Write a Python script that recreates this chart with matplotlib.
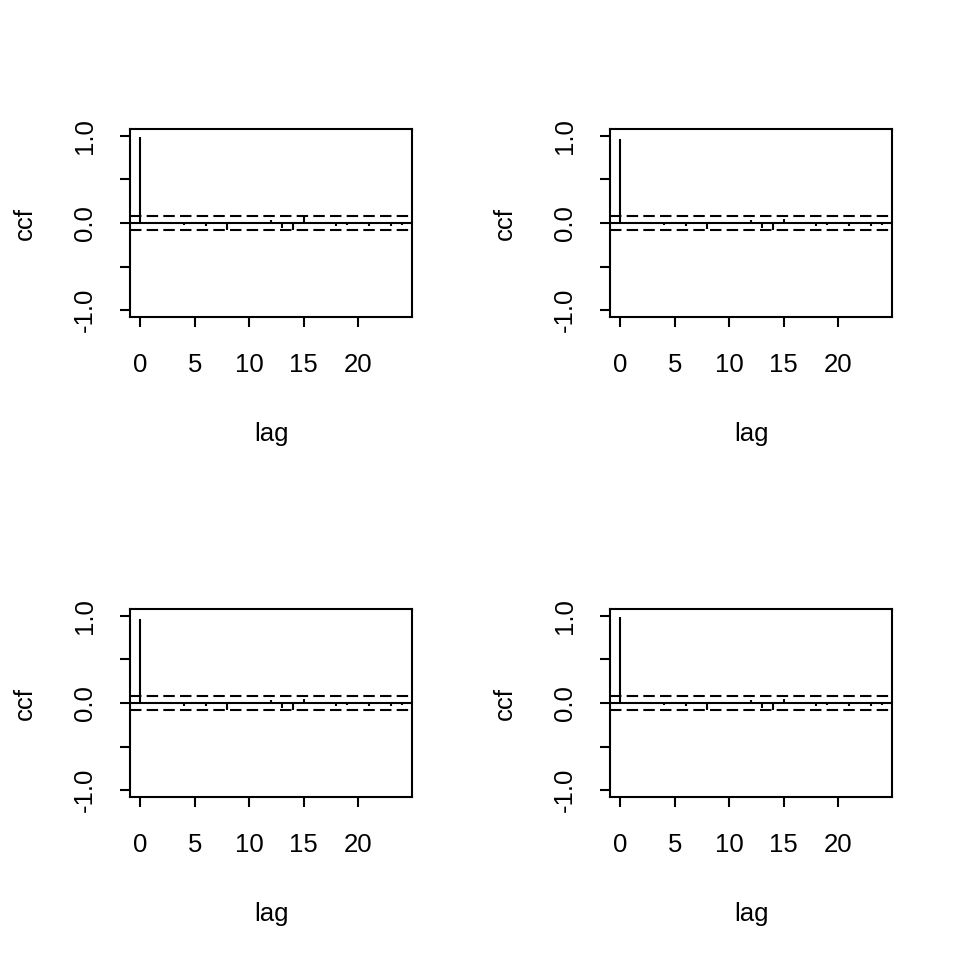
import matplotlib

matplotlib.use("Agg")
import matplotlib.pyplot as plt
import numpy as np


plt.rcParams["font.family"] = ["Liberation Sans", "DejaVu Sans"]
plt.rcParams["font.size"] = 18.5

LAGS = np.arange(0, 25)

# cross-correlation values (lags 0..24)
CCF_1 = [0.99, 0.00, -0.005, 0.01, -0.02, 0.00, -0.03, 0.005, -0.075, 0.00,
         0.005, -0.01, 0.04, -0.06, -0.075, 0.07, 0.005, 0.00, -0.04, -0.02,
         0.005, -0.04, 0.01, -0.03, -0.02]
CCF_2 = [0.965, 0.00, -0.01, 0.005, -0.02, 0.00, -0.03, 0.005, -0.07, 0.00,
         0.005, -0.01, 0.04, -0.06, -0.075, 0.05, 0.005, 0.00, -0.04, -0.02,
         0.005, -0.04, 0.01, -0.03, -0.02]
CCF_3 = [0.965, 0.00, -0.01, 0.01, -0.03, 0.00, -0.03, 0.005, -0.075, 0.01,
         0.005, -0.01, 0.04, -0.06, -0.075, 0.05, 0.005, 0.00, -0.04, -0.02,
         0.005, -0.04, 0.01, -0.03, -0.02]
CCF_4 = [0.99, 0.00, -0.005, 0.005, -0.02, 0.00, -0.03, 0.005, -0.075, 0.00,
         0.005, -0.01, 0.04, -0.06, -0.075, 0.05, 0.005, 0.00, -0.04, -0.02,
         0.005, -0.04, 0.01, -0.03, -0.02]
PANELS = [CCF_1, CCF_2, CCF_3, CCF_4]

CONF_LIMIT = 0.08
X_TICKS = [0, 5, 10, 15, 20]
Y_TICKS = [-1.0, -0.5, 0.0, 0.5, 1.0]
Y_TICK_LABELS = ["-1.0", "", "0.0", "", "1.0"]

# panel boxes in figure fractions: left, bottom, width, height
POSITIONS = [
    (130 / 960, 1 - 317 / 960, 282 / 960, 188 / 960),
    (610 / 960, 1 - 317 / 960, 282 / 960, 188 / 960),
    (130 / 960, 1 - 797 / 960, 282 / 960, 188 / 960),
    (610 / 960, 1 - 797 / 960, 282 / 960, 188 / 960),
]


def draw_panel(ax, values):
    ax.vlines(LAGS, 0, values, color="black", linewidth=1.5)
    ax.axhline(0, color="black", linewidth=1.5)
    for level in (CONF_LIMIT, -CONF_LIMIT):
        ax.axhline(level, color="black", linewidth=1.5, linestyle=(0, (5.5, 2.5)))

    ax.set_xlim(-0.96, 24.96)
    ax.set_ylim(-1.08, 1.08)
    ax.set_xticks(X_TICKS)
    ax.set_yticks(Y_TICKS)
    ax.set_yticklabels(Y_TICK_LABELS, rotation=90, va="center")
    ax.tick_params(axis="both", direction="out", length=7, width=1.5)
    ax.tick_params(axis="x", pad=19)
    ax.tick_params(axis="y", pad=16.5)
    for spine in ax.spines.values():
        spine.set_linewidth(1.5)

    ax.set_xlabel("lag", labelpad=32)
    ax.set_ylabel("ccf", labelpad=26.5)


def main() -> None:
    fig = plt.figure(figsize=(9.6, 9.6), dpi=100)
    for position, values in zip(POSITIONS, PANELS):
        ax = fig.add_axes(position)
        draw_panel(ax, values)
    fig.savefig("out.png", dpi=100, facecolor="white")
    plt.close(fig)


if __name__ == "__main__":
    main()
